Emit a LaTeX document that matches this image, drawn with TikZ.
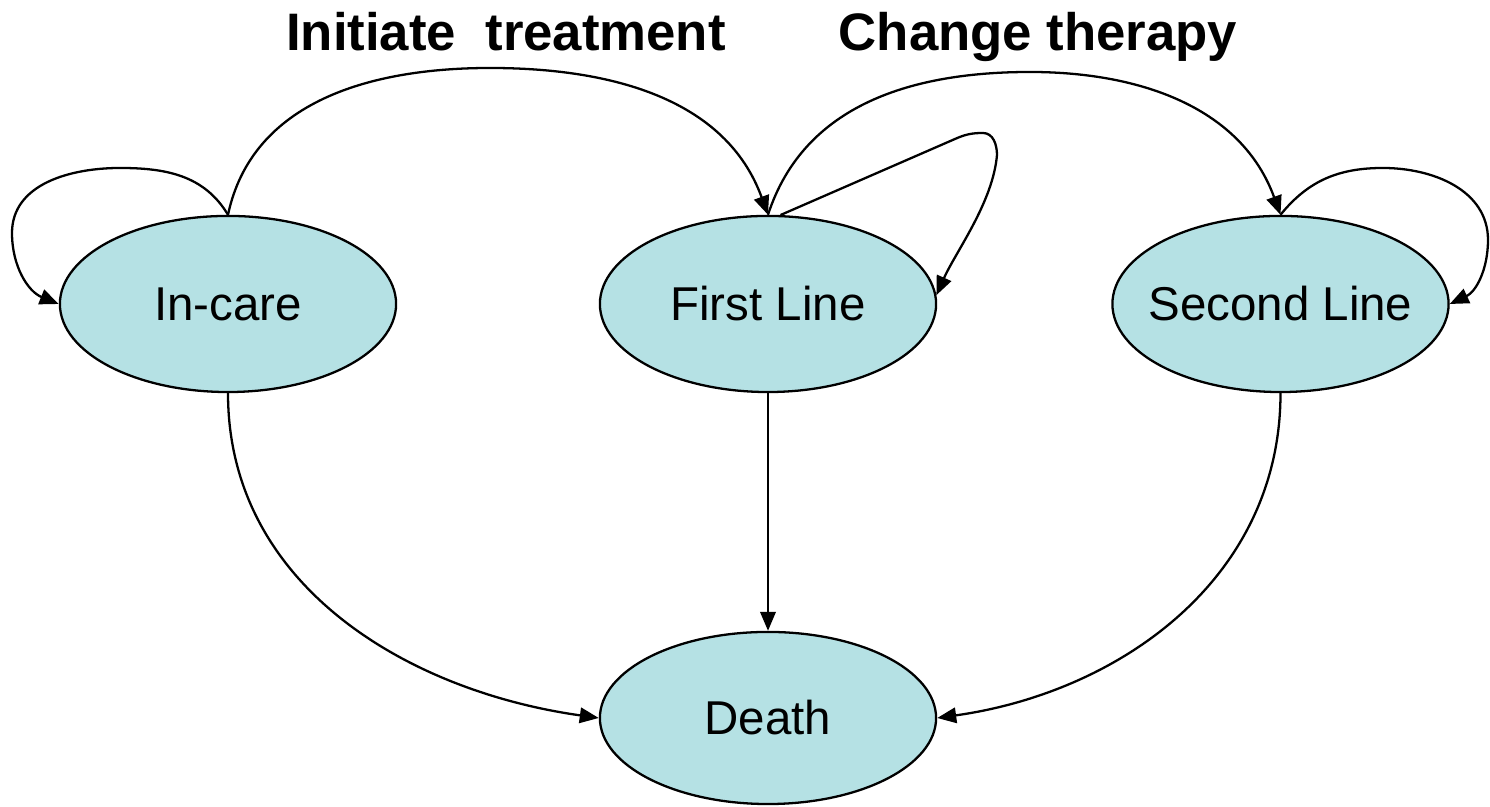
\documentclass[tikz,border=0pt]{standalone}
\usepackage{fontspec}
\setmainfont{Liberation Sans}
\usetikzlibrary{shapes.geometric,arrows.meta}
\definecolor{statefill}{RGB}{181,225,228}
\begin{document}
\begin{tikzpicture}[x=0.01cm,y=0.01cm,
  state/.style={ellipse,draw=black,line width=0.65pt,fill=statefill,minimum width=3.36cm,minimum height=1.76cm,inner sep=0pt,font=\fontsize{13.5}{16}\selectfont},
  conn/.style={line width=0.65pt,-{Triangle[length=5.4pt,width=4.4pt]}},
  ttl/.style={font=\fontsize{15}{18}\selectfont\bfseries,anchor=base,inner sep=0pt}]
\useasboundingbox (0,0) rectangle (1490,807);
\node[state] (ic) at (228,503) {\makebox[0pt]{In-care}};
\node[state] (fl) at (768,503) {\makebox[0pt]{First Line}};
\node[state] (sl) at (1280.5,503) {\makebox[0pt]{Second Line}};
\node[state,minimum height=1.72cm] (de) at (768,89) {\makebox[0pt]{Death}};
\node[ttl] (t1) at (506,756) {Initiate\ \ treatment};
\node[ttl] (t2) at (1038,756) {Change therapy};
% self loops
\draw[conn] (ic.north) to[out=121,in=0] (120,639) to[out=180,in=90] (12,574) to[out=-90,in=158] (ic.west);
\draw[conn] (sl.north) to[out=51,in=180] (1383,639) to[out=0,in=90] (1488,567) to[out=-90,in=25] (sl.east);
\draw[conn] (fl.82) -- (955,668) to[out=24,in=180] (983,674) to[out=0,in=90] (997,652) to[out=-95,in=66,looseness=0.8] (fl.3);
% forward arcs
\draw[conn] (ic.north) to[out=78,in=180] (490,739) to[out=0,in=110] (fl.north);
\draw[conn] (fl.north) to[out=72,in=180] (1030,735) to[out=0,in=110] (sl.north);
% to death
\draw[conn] (ic.south) to[out=-90,in=172] (de.west);
\draw[conn] (fl.south) -- (de.north);
\draw[conn] (sl.south) to[out=-90,in=8] (de.east);
\end{tikzpicture}
\end{document}
